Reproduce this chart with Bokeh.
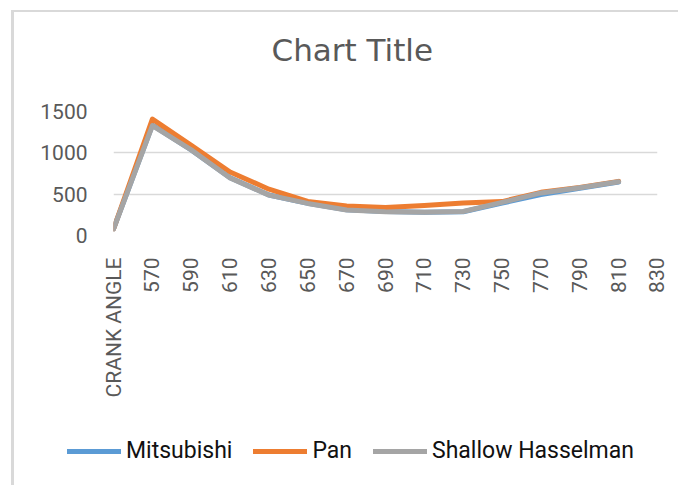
import numpy as np
from bokeh.plotting import figure
from bokeh.models import FactorRange, Range1d, Legend, LegendItem, FixedTicker, Label
from bokeh.embed import file_html
from bokeh.resources import INLINE

nan = np.nan

categories = ["CRANK ANGLE", "570", "590", "610", "630", "650", "670", "690",
              "710", "730", "750", "770", "790", "810", "830"]
mitsubishi = [80, 1335, 1035, 698, 490, 390, 310, 290, 282, 288, 392, 495, 572, 648, nan]
pan = [80, 1408, 1090, 768, 560, 412, 358, 340, 362, 392, 410, 522, 582, 655, nan]
shallow = [80, 1330, 1036, 696, 488, 388, 308, 288, 280, 290, 400, 515, 578, 650, nan]
series = [mitsubishi, pan, shallow]
series_names = ["Mitsubishi", "Pan", "Shallow Hasselman"]
series_colors = ["#5B9BD5", "#ED7D31", "#A5A5A5"]
y_ticks = [0, 500, 1000, 1500]
chart_title = "Chart Title"

W = 678
TOP_H = 80
LEG_H = 65
BORDER = "linear-gradient(#d9d9d9, #d9d9d9)"
LEFT_EDGE = BORDER + " 11px 0px / 3px 100% no-repeat"


def bare(height, x_range, y_range):
    f = figure(width=W, height=height, x_range=x_range, y_range=y_range,
               output_backend="svg", toolbar_location=None,
               x_axis_location=None, y_axis_location=None, min_border=0)
    f.outline_line_color = None
    f.background_fill_color = None
    f.border_fill_color = None
    f.grid.visible = False
    return f


# ---- title strip
p_top = bare(TOP_H, Range1d(0, 1), Range1d(0, 1))
p_top.styles = {"background": (BORDER + " 11px 10px / 667px 2px no-repeat, "
                               + BORDER + " 11px 10px / 3px 70px no-repeat, white")}
p_top.add_layout(Label(x=271, y=31, x_units="screen", y_units="screen", text=chart_title,
                       text_font="DejaVu Sans", text_font_size="31px",
                       text_color="#595959", text_align="left", text_baseline="alphabetic"))

# ---- main chart
p = figure(
    x_range=FactorRange(factors=categories, range_padding=-0.499, range_padding_units="absolute"),
    y_range=Range1d(0, 1500),
    frame_width=544, frame_height=124,
    output_backend="svg", toolbar_location=None,
    min_border_left=113, min_border_right=21, min_border_top=111 - TOP_H,
    min_border_bottom=485 - TOP_H - LEG_H - 124 - (111 - TOP_H),
)
p.styles = {"background": LEFT_EDGE + ", white"}
p.outline_line_color = None
p.background_fill_color = "white"
p.border_fill_color = None

for vals, c in zip(series, series_colors):
    p.line(categories, vals, line_color=c, line_width=5, line_join="round", line_cap="round")

p.xgrid.visible = False
p.ygrid.grid_line_color = "#d9d9d9"
p.ygrid.grid_line_width = 1.5
p.yaxis.ticker = FixedTicker(ticks=y_ticks)
for ax in (p.xaxis, p.yaxis):
    ax.axis_line_color = None
    ax.major_tick_line_color = None
    ax.minor_tick_line_color = None
    ax.major_tick_out = 0
    ax.major_tick_in = 0
    ax.major_label_text_font = "Roboto"
    ax.major_label_text_font_size = "21px"
    ax.major_label_text_color = "#595959"
p.yaxis.major_label_standoff = 26
p.xaxis.major_label_standoff = 22
p.xaxis.major_label_orientation = np.pi / 2

# ---- legend strip (its own copies of the series lie outside its y range, so only the legend shows)
p_leg = bare(LEG_H, FactorRange(factors=categories), Range1d(10000, 20000))
p_leg.styles = {"background": LEFT_EDGE + ", white"}
leg_renderers = []
for vals, c in zip(series, series_colors):
    leg_renderers.append(p_leg.line(categories, vals, line_color=c, line_width=5,
                                    line_join="round", line_cap="round"))
legend = Legend(
    items=[LegendItem(label=n, renderers=[r]) for n, r in zip(series_names, leg_renderers)],
    orientation="horizontal",
    location=(67, 21),
    label_text_font="Roboto",
    label_text_font_size="23px",
    label_text_color="#111111",
    glyph_width=54, glyph_height=20,
    label_standoff=5, spacing=21,
    border_line_color=None,
    background_fill_alpha=0,
    padding=0, margin=0,
)
p_leg.add_layout(legend)

open("out.html", "w").write(file_html([p_top, p, p_leg], INLINE))
